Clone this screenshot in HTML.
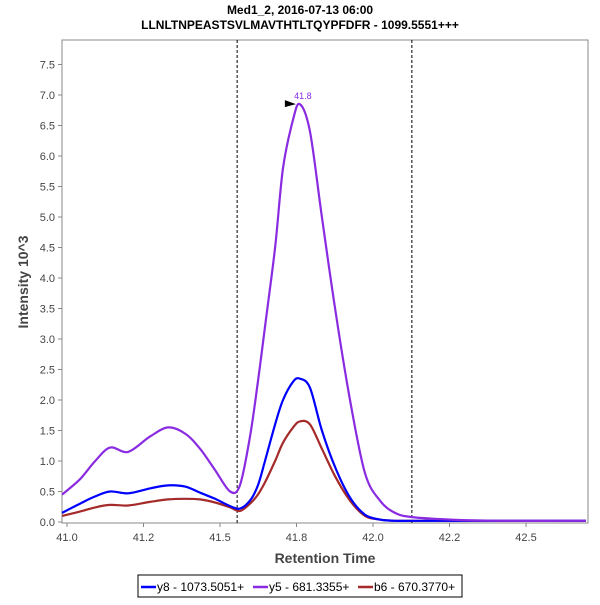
<!DOCTYPE html>
<html><head><meta charset="utf-8"><style>
body{margin:0;background:#fff;font-family:"Liberation Sans",sans-serif}
</style></head><body>
<svg width="600" height="600" xmlns="http://www.w3.org/2000/svg" font-family="Liberation Sans, sans-serif">
<rect width="600" height="600" fill="#fff"/>
<text x="300" y="14" text-anchor="middle" font-size="12" font-weight="bold" fill="#000">Med1_2, 2016-07-13 06:00</text>
<text x="300" y="29" text-anchor="middle" font-size="12" font-weight="bold" fill="#000">LLNLTNPEASTSVLMAVTHTLTQYPFDFR - 1099.5551+++</text>
<rect x="62" y="40" width="526" height="483" fill="#fff" stroke="#888"/>
<g id="xt"></g>
<g id="yt"></g>
<g id="series"></g>
<text x="325" y="563" text-anchor="middle" font-size="14" font-weight="bold" fill="#444">Retention Time</text>
<text transform="translate(28,282) rotate(-90)" text-anchor="middle" font-size="14" font-weight="bold" fill="#444">Intensity 10^3</text>
<g>
<rect x="138" y="575" width="324" height="22" fill="#fff" stroke="#000"/>
<line x1="141" y1="587" x2="156" y2="587" stroke="#0000ff" stroke-width="2.5"/>
<text x="157" y="591" font-size="12" fill="#000">y8 - 1073.5051+</text>
<line x1="253" y1="587" x2="268" y2="587" stroke="#8a2be2" stroke-width="2.5"/>
<text x="269" y="591" font-size="12" fill="#000">y5 - 681.3355+</text>
<line x1="358" y1="587" x2="373" y2="587" stroke="#a52a2a" stroke-width="2.5"/>
<text x="374" y="591" font-size="12" fill="#000">b6 - 670.3770+</text>
</g>
</svg>
<script>
const times=[40.984,41.042,41.092,41.141,41.2,41.271,41.33,41.386,41.435,41.484,41.533,41.565,41.598,41.624,41.647,41.68,41.706,41.739,41.761,41.794,41.833,41.876,41.925,41.974,42.023,42.072,42.127,42.252,42.415,42.696];
const y5=[0.45,0.7,1.0,1.22,1.15,1.4,1.55,1.45,1.2,0.85,0.5,0.6,1.4,2.3,3.2,4.5,5.8,6.6,6.85,6.4,5.0,3.5,2.0,0.8,0.35,0.15,0.08,0.04,0.02,0.02];
const y8=[0.15,0.3,0.42,0.5,0.47,0.55,0.6,0.58,0.48,0.38,0.26,0.22,0.35,0.6,1.0,1.6,2.0,2.3,2.35,2.2,1.5,0.9,0.4,0.12,0.04,0.02,0.02,0.02,0.02,0.02];
const b6=[0.1,0.17,0.24,0.28,0.27,0.33,0.37,0.38,0.37,0.32,0.24,0.18,0.3,0.45,0.65,1.0,1.3,1.55,1.65,1.6,1.2,0.75,0.35,0.1,0.04,0.02,0.02,0.02,0.02,0.02];
const xTicks=[41.0,41.25,41.5,41.75,42.0,42.25,42.5];
const xTickLabels=["41.0","41.2","41.5","41.8","42.0","42.2","42.5"];
const yTicks=[0,0.5,1,1.5,2,2.5,3,3.5,4,4.5,5,5.5,6,6.5,7,7.5];
const markers=[41.556,42.127];
const peakTime=41.761, peakValue=6.85, peakLabel="41.8";
const NS="http://www.w3.org/2000/svg";
const X=t=>67+(t-41)*306;
const Y=v=>522-v*61;
function mk(tag,attrs,parent){const e=document.createElementNS(NS,tag);for(const k in attrs)e.setAttribute(k,attrs[k]);parent.appendChild(e);return e;}
const xt=document.getElementById('xt'),yt=document.getElementById('yt'),sg=document.getElementById('series');
xTicks.forEach((t,i)=>{
 mk('line',{x1:X(t),x2:X(t),y1:523,y2:527,stroke:'#888'},xt);
 const tx=mk('text',{x:X(t),y:541,'text-anchor':'middle','font-size':11,fill:'#444'},xt);
 tx.textContent=xTickLabels[i];
 
 
});
yTicks.forEach(v=>{
 mk('line',{x1:58,x2:62,y1:Y(v),y2:Y(v),stroke:'#888'},yt);
 const tx=mk('text',{x:55,y:Y(v)+4,'text-anchor':'end','font-size':11,fill:'#444'},yt);
 tx.textContent=v.toFixed(1);
 
 
});
markers.forEach(t=>{
 const l=mk('line',{x1:X(t),x2:X(t),y1:40,y2:523,stroke:'#000','stroke-dasharray':'3,2','stroke-width':1},sg);
 
 
});
function line(vals,color,name){
 const P=times.map((t,i)=>[X(t),Y(vals[i])]);
 let d='M'+P[0][0].toFixed(1)+','+P[0][1].toFixed(1);
 for(let i=0;i<P.length-1;i++){
  const p0=P[Math.max(0,i-1)],p1=P[i],p2=P[i+1],p3=P[Math.min(P.length-1,i+2)];
  const c1=[p1[0]+(p2[0]-p0[0])/6,p1[1]+(p2[1]-p0[1])/6];
  const c2=[p2[0]-(p3[0]-p1[0])/6,p2[1]-(p3[1]-p1[1])/6];
  d+='C'+c1[0].toFixed(1)+','+c1[1].toFixed(1)+' '+c2[0].toFixed(1)+','+c2[1].toFixed(1)+' '+p2[0].toFixed(1)+','+p2[1].toFixed(1);
 }
 const p=mk('path',{d:d,fill:'none',stroke:color,'stroke-width':2.2,'stroke-linejoin':'round'},sg);
 
 
}
line(b6,'#a52a2a','series-b6');
line(y8,'#0000ff','series-y8');
line(y5,'#8a2be2','series-y5');
const px=X(peakTime),py=Y(peakValue);
const tri=mk('path',{d:`M${px-15},${py-4}L${px-4},${py}L${px-15},${py+3}Z`,fill:'#000'},sg);


const pl=mk('text',{x:px+3,y:py-5,'text-anchor':'middle','font-size':9,fill:'#8a2be2'},sg);
pl.textContent=peakLabel;


</script>
</body></html>
